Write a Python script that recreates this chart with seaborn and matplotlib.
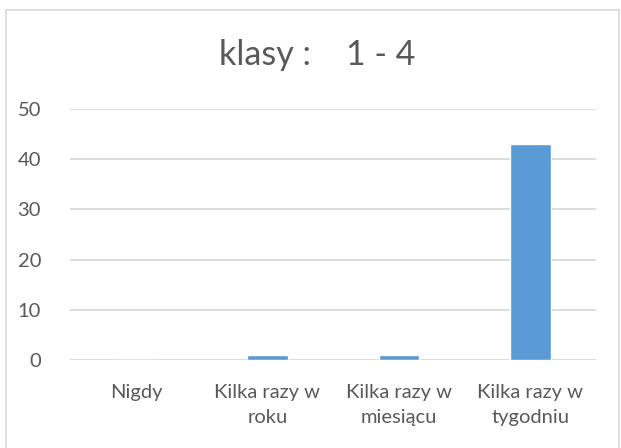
import numpy as np
import pandas as pd
import matplotlib
matplotlib.use("Agg")
import matplotlib.pyplot as plt
import seaborn as sns
from matplotlib.patches import Rectangle

# dane z wykresu
kategorie = ["Nigdy", "Kilka razy w\nroku", "Kilka razy w\nmiesiącu", "Kilka razy w\ntygodniu"]
wartosci = [0, 1, 1, 43]
tytul = "klasy :    1 - 4"

sns.set_theme(style="white")
plt.rcParams['font.family'] = ['Lato', 'DejaVu Sans']

df = pd.DataFrame({"kategoria": kategorie, "liczba": wartosci})

fig = plt.figure(figsize=(6.21, 4.48), dpi=100)
ax = fig.add_axes([0.113, 0.196, 0.847, 0.561])

sns.barplot(data=df, x="kategoria", y="liczba", color="#5B9BD5", saturation=1,
            width=0.31, ax=ax, zorder=3)

ax.set_ylim(0, 50)
ax.set_yticks(np.arange(0, 51, 10))
ax.set_xlim(-0.5, 3.5)
ax.grid(axis="y", color="#D9D9D9", linewidth=1.3, zorder=0)
ax.set_axisbelow(True)
for s in ax.spines.values():
    s.set_visible(False)
ax.set_xlabel("")
ax.set_ylabel("")
ax.tick_params(axis="y", length=0, pad=21, labelsize=14.5, labelcolor="#595959")
ax.tick_params(axis="x", length=0, pad=17, labelsize=14.5, labelcolor="#595959")
for t in ax.get_xticklabels():
    t.set_linespacing(1.6)
for t in ax.get_yticklabels():
    t.set_horizontalalignment("right")

fig.text(0.51, 0.877, tytul, ha="center", va="center", fontsize=24.5, color="#595959")

# ramka wykresu
fig.patches.append(Rectangle((6 / 621, -0.1), 613 / 621, 1.1 - 10 / 448,
                             transform=fig.transFigure, fill=False,
                             edgecolor="#D9D9D9", linewidth=1.2))

fig.savefig("out.png", dpi=100)
